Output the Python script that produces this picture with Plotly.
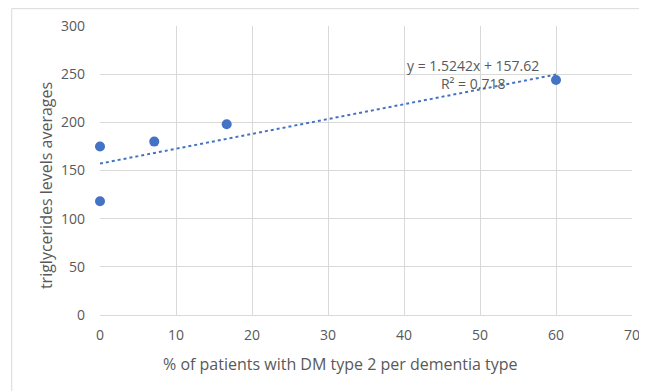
import numpy as np
import plotly.graph_objects as go

# data
pct_dm = [0, 0, 7.14, 16.67, 60]
trig_avg = [118, 175, 180, 198, 244]
x_ticks = [0, 10, 20, 30, 40, 50, 60, 70]
y_ticks = [0, 50, 100, 150, 200, 250, 300]
x_title = "% of patients with DM type 2 per dementia type"
y_title = "triglycerides levels averages"
eq_label = "y = 1.5242x + 157.62<br>R² = 0.718"

slope, intercept = np.polyfit(pct_dm, trig_avg, 1)
tx = np.linspace(min(pct_dm), max(pct_dm), 50)
ty = slope * tx + intercept

blue = "#4472C4"
grey = "#595959"
grid = "#D9D9D9"
font = "Open Sans"

fig = go.Figure()
fig.add_trace(go.Scatter(x=tx, y=ty, mode="lines",
                         line=dict(color=blue, width=2, dash="dot"),
                         showlegend=False, hoverinfo="skip", cliponaxis=False))
fig.add_trace(go.Scatter(x=pct_dm, y=trig_avg, mode="markers",
                         marker=dict(color=blue, size=10),
                         showlegend=False, cliponaxis=False))

fig.add_annotation(x=49.1, y=250, xref="x", yref="y", text=eq_label,
                   showarrow=False, align="center",
                   font=dict(family=font, size=14, color=grey))

# axis titles (placed like the reference)
fig.add_annotation(x=0.453, y=-0.1696, xref="paper", yref="paper", text=x_title,
                   showarrow=False, xanchor="center", yanchor="middle",
                   font=dict(family=font, size=16, color=grey))
fig.add_annotation(x=-0.1015, y=0.446, xref="paper", yref="paper", text=y_title,
                   showarrow=False, textangle=-90, xanchor="center", yanchor="middle",
                   font=dict(family=font, size=16, color=grey))

fig.add_shape(type="rect", xref="paper", yref="paper",
              x0=-0.166, x1=1.2, y0=-0.5, y1=1.06,
              line=dict(color="#D9D9D9", width=1), layer="below")

fig.update_layout(
    width=647, height=391,
    margin=dict(l=92, r=23, t=18, b=84, autoexpand=False),
    paper_bgcolor="white", plot_bgcolor="white",
    font=dict(family=font, size=14, color=grey),
    xaxis=dict(range=[0, 70], tickvals=x_ticks, showgrid=True, gridcolor=grid,
               gridwidth=1, zeroline=False, showline=True, linecolor=grid,
               ticks="", ticklabelstandoff=7, automargin=False,
               tickfont=dict(size=14, color=grey)),
    yaxis=dict(range=[0, 300], tickvals=y_ticks, showgrid=True, gridcolor=grid,
               gridwidth=1, zeroline=False, showline=False,
               ticks="", ticklabelstandoff=14, automargin=False,
               tickfont=dict(size=14, color=grey)),
)

fig.write_html("out.html")
